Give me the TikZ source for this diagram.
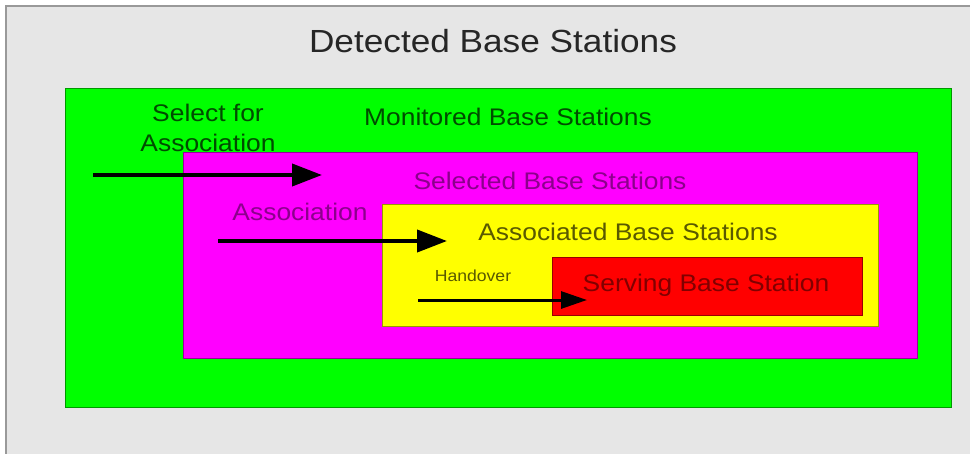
\documentclass[tikz,border=0pt]{standalone}
\usepackage{fontspec}
\setmainfont{Liberation Sans}
\usetikzlibrary{arrows.meta}
\definecolor{bggray}{RGB}{230,230,230}
\definecolor{mgreen}{RGB}{0,255,0}
\definecolor{mmag}{RGB}{255,0,255}
\definecolor{myel}{RGB}{255,255,0}
\definecolor{mred}{RGB}{255,0,0}
\tikzset{
  region/.style={draw=#1!60!black, line width=1pt},
  lbl/.style={inner sep=0pt, xscale=1.1, font=\fontsize{24}{29}\selectfont},
  flow/.style={line width=4pt, -{Triangle[length=30pt,width=22pt]}}
}
\begin{document}
\begin{tikzpicture}[x=1pt,y=-1pt]
\useasboundingbox (0,0) rectangle (970,453);
\fill[white] (0,0) rectangle (970,453);
\draw[fill=bggray, draw=gray!80, line width=1.5pt] (6,6) rectangle (972,455);
\node[lbl, font=\fontsize{32}{38}\selectfont, text=black!85] (title) at (493,41) {Detected Base Stations};
\draw[region=mgreen, fill=mgreen] (65,88) rectangle (951,407);
\draw[region=mmag, fill=mmag] (183,152) rectangle (917,358);
\draw[region=myel, fill=myel] (382,204) rectangle (878,326);
\draw[region=mred, fill=mred] (552,257) rectangle (862,315);
\node[lbl, text=green!30!black] (mon) at (508,117) {Monitored Base Stations};
\node[lbl, text=green!30!black, align=center, font=\fontsize{24}{30}\selectfont] (sel4) at (208,128) {Select for\\Association};
\node[lbl, text=mmag!55!black] (selbs) at (550,181) {Selected Base Stations};
\node[lbl, text=mmag!55!black] (assoc) at (300,212) {Association};
\node[lbl, text=myel!35!black] (assbs) at (628,232) {Associated Base Stations};
\node[lbl, text=myel!35!black, font=\fontsize{16}{19}\selectfont] (hand) at (473,276) {Handover};
\node[lbl, text=mred!50!black] (serv) at (706,285) {Serving Base Station};
\coordinate (a1s) at (93,175); \coordinate (a1e) at (322,175);
\coordinate (a2s) at (218,241); \coordinate (a2e) at (447,241);
\coordinate (a3s) at (418,300); \coordinate (a3e) at (587,300);
\draw[flow] (a1s) -- (a1e);
\draw[flow] (a2s) -- (a2e);
\draw[flow, line width=3pt, -{Triangle[length=26pt,width=17pt]}] (a3s) -- (a3e);
\end{tikzpicture}
\end{document}
